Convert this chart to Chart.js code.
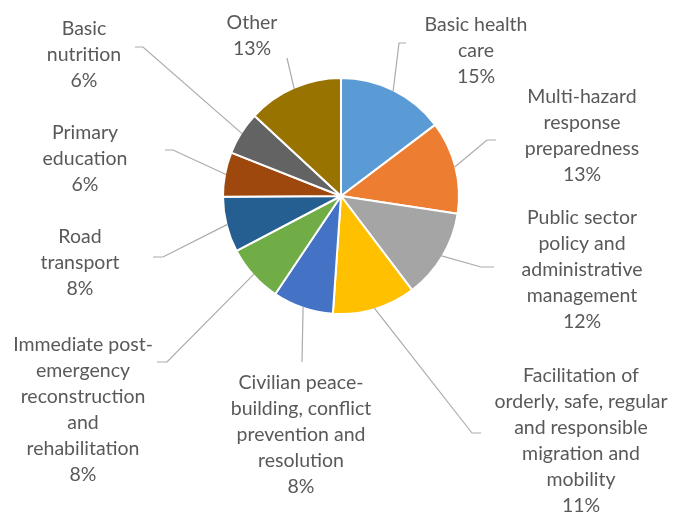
<!DOCTYPE html>
<html>
<head>
<meta charset="utf-8">
<script src="https://cdn.jsdelivr.net/npm/chart.js@4/dist/chart.umd.min.js"></script>
<style>
html,body{margin:0;padding:0;background:#fff;}
canvas{display:block;}
</style>
</head>
<body>
<canvas id="c" width="674" height="515"></canvas>
<script>
// ---- data ----
const categories = [
  "Basic health\ncare",
  "Multi-hazard\nresponse\npreparedness",
  "Public sector\npolicy and\nadministrative\nmanagement",
  "Facilitation of\norderly, safe, regular\nand responsible\nmigration and\nmobility",
  "Civilian peace-\nbuilding, conflict\nprevention and\nresolution",
  "Immediate post-\nemergency\nreconstruction\nand\nrehabilitation",
  "Road\ntransport",
  "Primary\neducation",
  "Basic\nnutrition",
  "Other"
];
const shares = [14.7, 12.7, 12.3, 11.4, 8.3, 7.9, 7.6, 6.1, 5.9, 13.1];
const colors = ["#5B9BD5","#ED7D31","#A5A5A5","#FFC000","#4472C4","#70AD47","#255E91","#9E480E","#636363","#997300"];

// ---- label layout (annotation placement, not data) ----
const labelCenters = [[476,25],[582,97],[582,218],[581,376],[301,383],[83,345],[80,237],[85,133],[84,29],[252,23]];
const leaderPaths = [
  [[399,43],[406,43]],
  [[487,140],[496,140]],
  [[481,267],[494,267]],
  [[472,433],[481,433]],
  [[302,362]],
  [[167,362],[157,362]],
  [[163,257],[153,257]],
  [[173,150],[165,150]],
  [[143,47],[135,47]],
  [[287,58]]
];
const lineHeight = 26;

const labelPlugin = {
  id: 'pieLabels',
  afterDatasetsDraw(chart) {
    const ctx = chart.ctx;
    const meta = chart.getDatasetMeta(0);
    ctx.save();
    meta.data.forEach((arc, i) => {
      const p = arc.getProps(['x','y','startAngle','endAngle','outerRadius'], true);
      const mid = (p.startAngle + p.endAngle) / 2;
      const r = p.outerRadius - 1;
      const sx = p.x + Math.cos(mid) * r;
      const sy = p.y + Math.sin(mid) * r;
      ctx.beginPath();
      ctx.moveTo(sx, sy);
      leaderPaths[i].forEach(pt => ctx.lineTo(pt[0], pt[1]));
      ctx.strokeStyle = '#ABABAB';
      ctx.lineWidth = 1.2;
      ctx.stroke();
    });
    ctx.fillStyle = '#595959';
    ctx.font = '19.5px Lato';
    ctx.textAlign = 'center';
    ctx.textBaseline = 'middle';
    categories.forEach((name, i) => {
      const lines = name.split('\n').concat([Math.round(shares[i]) + '%']);
      const [cx, cy] = labelCenters[i];
      lines.forEach((ln, k) => ctx.fillText(ln, cx, cy + k * lineHeight));
    });
    ctx.restore();
  }
};

new Chart(document.getElementById('c'), {
  type: 'pie',
  data: {
    labels: categories.map(c => c.replace(/\n/g, ' ')),
    datasets: [{
      data: shares,
      backgroundColor: colors,
      borderColor: '#ffffff',
      borderWidth: 2
    }]
  },
  options: {
    responsive: false,
    animation: false,
    layout: { padding: { top: 77, bottom: 200, left: 8, right: 0 } },
    plugins: { legend: { display: false }, tooltip: { enabled: false } }
  },
  plugins: [labelPlugin]
});
</script>
</body>
</html>
